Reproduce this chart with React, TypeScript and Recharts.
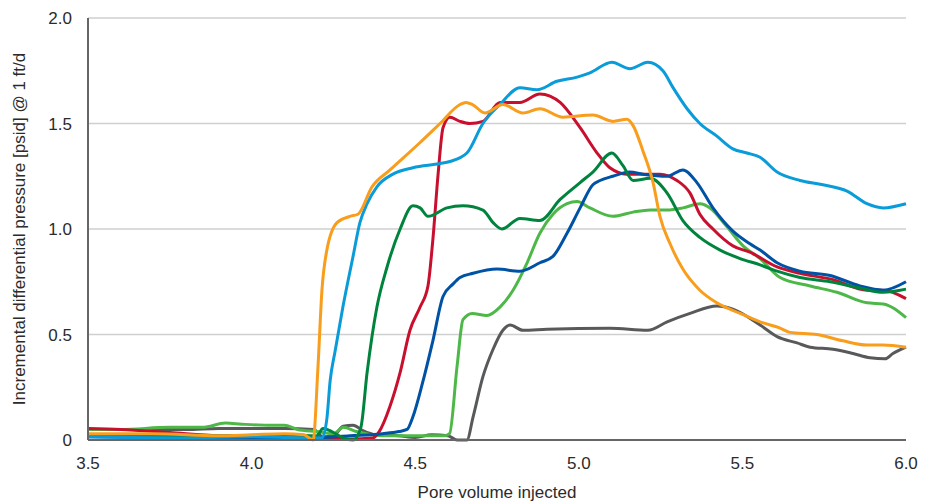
import React from "react";
import { LineChart, Line, XAxis, YAxis, CartesianGrid } from "recharts";

// Pore volume injected (x) and incremental differential pressure (y) per run
const grayX = [3.5, 3.8, 3.9, 4.1, 4.19, 4.218, 4.25, 4.28, 4.31, 4.34, 4.38, 4.45, 4.5, 4.55, 4.6, 4.628, 4.658, 4.677, 4.707, 4.738, 4.768, 4.79, 4.829, 4.903, 5.095, 5.211, 5.27, 5.34, 5.422, 5.471, 5.554, 5.606, 5.667, 5.707, 5.777, 5.838, 5.89, 5.936, 5.96, 6.0];
const grayY = [0.05, 0.05, 0.055, 0.055, 0.05, 0.015, 0.02, 0.065, 0.07, 0.045, 0.025, 0.02, 0.012, 0.025, 0.02, 0.0, 0.0, 0.11, 0.3, 0.43, 0.52, 0.545, 0.52, 0.525, 0.53, 0.52, 0.56, 0.6, 0.635, 0.62, 0.545, 0.49, 0.46, 0.44, 0.43, 0.41, 0.39, 0.385, 0.41, 0.44];

const lightGreenX = [3.5, 3.6, 3.75, 3.85, 3.92, 3.97, 4.05, 4.1, 4.14, 4.2, 4.25, 4.28, 4.32, 4.4, 4.5, 4.59, 4.605, 4.628, 4.646, 4.674, 4.719, 4.759, 4.799, 4.842, 4.881, 4.921, 4.964, 4.995, 5.034, 5.104, 5.166, 5.218, 5.27, 5.318, 5.37, 5.401, 5.453, 5.502, 5.554, 5.615, 5.707, 5.789, 5.881, 5.93, 6.0];
const lightGreenY = [0.05, 0.05, 0.06, 0.06, 0.08, 0.075, 0.07, 0.07, 0.05, 0.04, 0.03, 0.06, 0.04, 0.02, 0.02, 0.02, 0.03, 0.35, 0.57, 0.6, 0.59, 0.63, 0.71, 0.84, 0.98, 1.07, 1.12, 1.13, 1.1, 1.06, 1.08, 1.09, 1.09, 1.1, 1.12, 1.1, 1.01, 0.92, 0.86, 0.77, 0.73, 0.7, 0.65, 0.645, 0.58];

const redX = [3.5, 3.6, 3.75, 3.9, 4.0, 4.1, 4.2, 4.3, 4.37, 4.39, 4.423, 4.454, 4.484, 4.515, 4.539, 4.554, 4.57, 4.585, 4.606, 4.637, 4.667, 4.707, 4.759, 4.82, 4.881, 4.912, 4.943, 5.004, 5.056, 5.095, 5.147, 5.248, 5.3, 5.34, 5.37, 5.41, 5.471, 5.523, 5.606, 5.676, 5.777, 5.881, 5.93, 6.0];
const redY = [0.055, 0.05, 0.035, 0.02, 0.015, 0.01, 0.01, 0.005, 0.01, 0.04, 0.16, 0.32, 0.52, 0.63, 0.73, 0.95, 1.26, 1.48, 1.53, 1.51, 1.5, 1.51, 1.6, 1.6, 1.64, 1.63, 1.6, 1.48, 1.36, 1.29, 1.26, 1.26, 1.23, 1.17, 1.07, 1.0, 0.92, 0.89, 0.82, 0.79, 0.76, 0.71, 0.71, 0.67];

const darkBlueX = [3.5, 3.8, 4.0, 4.2, 4.3, 4.4, 4.45, 4.475, 4.493, 4.524, 4.554, 4.585, 4.616, 4.637, 4.677, 4.75, 4.82, 4.881, 4.921, 4.964, 5.004, 5.043, 5.065, 5.104, 5.156, 5.196, 5.27, 5.318, 5.361, 5.41, 5.471, 5.523, 5.554, 5.606, 5.676, 5.768, 5.859, 5.93, 6.0];
const darkBlueY = [0.015, 0.01, 0.005, 0.01, 0.02, 0.03, 0.04, 0.05, 0.11, 0.28, 0.47, 0.68, 0.74, 0.77, 0.79, 0.81, 0.8, 0.84, 0.87, 0.98, 1.1, 1.21, 1.23, 1.25, 1.27, 1.26, 1.25, 1.28, 1.22, 1.1, 0.99, 0.93, 0.9, 0.84, 0.8, 0.78, 0.73, 0.71, 0.75];

const darkGreenX = [3.5, 3.8, 4.0, 4.1, 4.2, 4.218, 4.245, 4.279, 4.31, 4.334, 4.353, 4.383, 4.414, 4.454, 4.493, 4.515, 4.539, 4.597, 4.646, 4.707, 4.738, 4.765, 4.82, 4.881, 4.943, 5.004, 5.043, 5.101, 5.135, 5.166, 5.218, 5.27, 5.318, 5.37, 5.432, 5.493, 5.554, 5.606, 5.676, 5.768, 5.859, 5.93, 6.0];
const darkGreenY = [0.025, 0.02, 0.02, 0.025, 0.02, 0.055, 0.04, 0.01, 0.0, 0.06, 0.32, 0.63, 0.82, 1.0, 1.11, 1.1, 1.06, 1.1, 1.11, 1.09, 1.03, 1.0, 1.05, 1.04, 1.14, 1.22, 1.27, 1.36, 1.3, 1.23, 1.24, 1.17, 1.04, 0.96, 0.9, 0.86, 0.83, 0.8, 0.77, 0.75, 0.72, 0.7, 0.715];

const lightBlueX = [3.5, 3.8, 4.0, 4.15, 4.215, 4.23, 4.24, 4.255, 4.279, 4.31, 4.331, 4.353, 4.383, 4.432, 4.493, 4.576, 4.606, 4.658, 4.707, 4.759, 4.82, 4.872, 4.933, 4.995, 5.034, 5.101, 5.156, 5.211, 5.257, 5.288, 5.331, 5.37, 5.422, 5.471, 5.514, 5.554, 5.606, 5.676, 5.746, 5.82, 5.881, 5.93, 6.0];
const lightBlueY = [0.015, 0.01, 0.015, 0.01, 0.01, 0.1, 0.28, 0.42, 0.63, 0.87, 1.03, 1.12, 1.2, 1.26, 1.29, 1.31, 1.32, 1.36, 1.5, 1.59, 1.67, 1.66, 1.7, 1.72, 1.74, 1.79, 1.76, 1.79, 1.75, 1.67, 1.57, 1.5, 1.44, 1.38, 1.36, 1.34, 1.27, 1.23, 1.21, 1.18, 1.12, 1.1, 1.12];

const orangeX = [3.5, 3.7, 3.9, 4.0, 4.1, 4.16, 4.188, 4.203, 4.215, 4.23, 4.261, 4.301, 4.325, 4.368, 4.423, 4.515, 4.576, 4.637, 4.655, 4.675, 4.713, 4.768, 4.829, 4.881, 4.952, 5.043, 5.104, 5.147, 5.166, 5.196, 5.227, 5.248, 5.279, 5.318, 5.37, 5.422, 5.493, 5.554, 5.615, 5.645, 5.728, 5.807, 5.881, 5.93, 6.0];
const orangeY = [0.03, 0.03, 0.02, 0.025, 0.03, 0.025, 0.0, 0.35, 0.71, 0.9, 1.03, 1.06, 1.07, 1.2, 1.28, 1.41, 1.5, 1.59, 1.6, 1.59, 1.55, 1.59, 1.55, 1.57, 1.53, 1.54, 1.51, 1.52, 1.49, 1.37, 1.22, 1.06, 0.93, 0.81, 0.71, 0.65, 0.6, 0.56, 0.53, 0.51, 0.5, 0.47, 0.45, 0.45, 0.44];

const xTicks = [3.5, 4.0, 4.5, 5.0, 5.5, 6.0];
const yTicks = [0, 0.5, 1.0, 1.5, 2.0];

const xLabel = "Pore volume injected";
const yLabel = "Incremental differential pressure [psid] @ 1 ft/d";

const toPoints = (xs: number[], ys: number[]) => xs.map((x, i) => ({ x, y: ys[i] }));

// Drawn back to front
const series = [
  { name: "gray", color: "#58595B", data: toPoints(grayX, grayY) },
  { name: "lightGreen", color: "#4DB848", data: toPoints(lightGreenX, lightGreenY) },
  { name: "red", color: "#C8102E", data: toPoints(redX, redY) },
  { name: "darkBlue", color: "#0052A5", data: toPoints(darkBlueX, darkBlueY) },
  { name: "darkGreen", color: "#00843D", data: toPoints(darkGreenX, darkGreenY) },
  { name: "lightBlue", color: "#0A9BD9", data: toPoints(lightBlueX, lightBlueY) },
  { name: "orange", color: "#F99D1C", data: toPoints(orangeX, orangeY) },
];

const FONT = "'Liberation Sans', Arial, Helvetica, sans-serif";
const TEXT = "#2b2b2b";

export default function App() {
  return (
    <div style={{ position: "absolute", left: 0, top: 0, width: 934, height: 503, background: "#fff", overflow: "hidden" }}>
      <LineChart width={934} height={503} margin={{ top: 18, right: 28, bottom: 33, left: 0 }}>
        <CartesianGrid vertical={false} stroke="#CFCFCF" strokeWidth={1.5} horizontalValues={[0.5, 1.0, 1.5, 2.0]} />
        <XAxis
          type="number"
          dataKey="x"
          height={30}
          domain={[3.5, 6]}
          ticks={xTicks}
          tickFormatter={(v: number) => v.toFixed(1)}
          tickLine={false}
          tickMargin={11}
          axisLine={{ stroke: "#666", strokeWidth: 2 }}
          tick={{ fill: TEXT, fontSize: 17, fontFamily: FONT }}
          allowDuplicatedCategory={false}
        />
        <YAxis
          type="number"
          dataKey="y"
          width={88}
          domain={[0, 2]}
          ticks={yTicks}
          tickFormatter={(v: number) => (v === 0 ? "0" : v.toFixed(1))}
          tickLine={false}
          tickMargin={10}
          axisLine={{ stroke: "#666", strokeWidth: 2 }}
          tick={{ fill: TEXT, fontSize: 17, fontFamily: FONT }}
        />
        {series.map((s) => (
          <Line
            key={s.name}
            data={s.data}
            dataKey="y"
            type="monotone"
            stroke={s.color}
            strokeWidth={3}
            dot={false}
            activeDot={false}
            isAnimationActive={false}
          />
        ))}
        <text x={497} y={498} textAnchor="middle" fill={TEXT} fontSize={17} fontFamily={FONT}>
          {xLabel}
        </text>
        <text
          x={0}
          y={0}
          transform="translate(25,229) rotate(-90)"
          textAnchor="middle"
          fill={TEXT}
          fontSize={17}
          fontFamily={FONT}
        >
          {yLabel}
        </text>
      </LineChart>
    </div>
  );
}
